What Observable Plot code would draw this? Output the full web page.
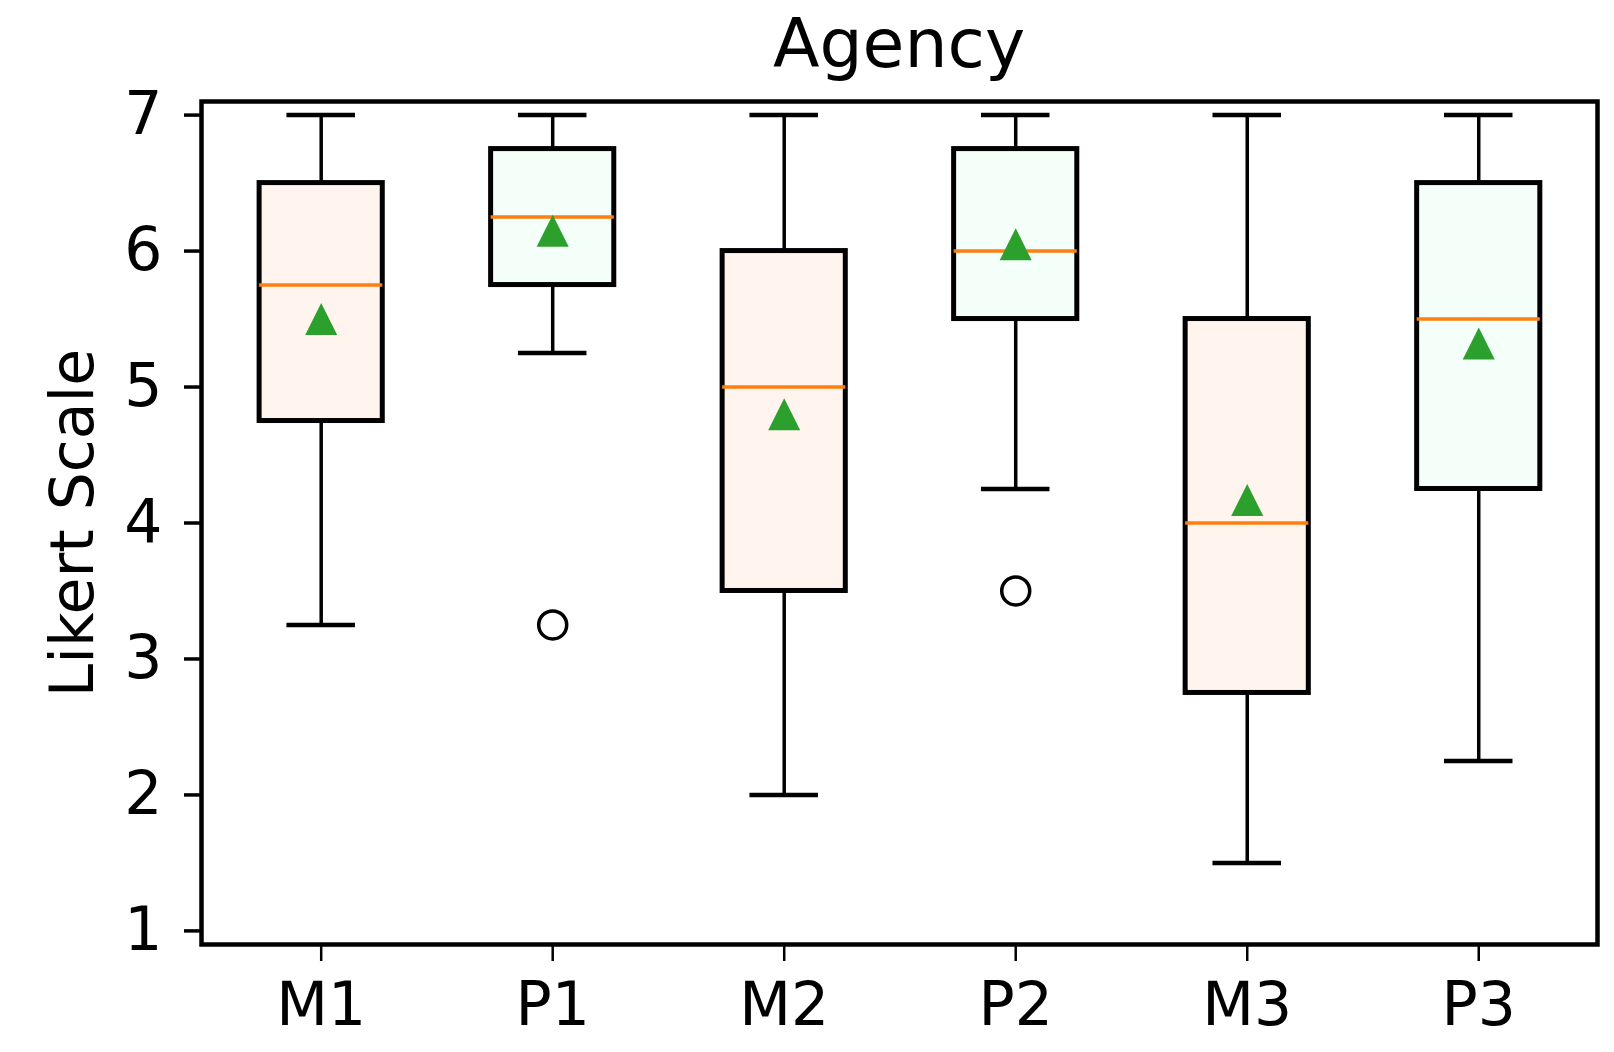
<!DOCTYPE html>
<html><head><meta charset="utf-8">
<script src="https://cdn.jsdelivr.net/npm/d3@7"></script>
<script src="https://cdn.jsdelivr.net/npm/@observablehq/plot@0.6"></script>
<style>
body{margin:0;background:#fff;font-family:"DejaVu Sans";}
#title{margin-left:201px;width:1396px;padding-top:9px;height:69px;line-height:69px;text-align:center;font-size:68px;color:#000;white-space:nowrap;}
#chart svg{display:block;}
</style></head><body>
<div id="title">Agency</div>
<div id="chart"></div>
<script>
const categories = ["M1", "P1", "M2", "P2", "M3", "P3"];
const whiskerHigh = [7, 7, 7, 7, 7, 7];
const q3 = [6.5, 6.75, 6.0, 6.75, 5.5, 6.5];
const median = [5.75, 6.25, 5.0, 6.0, 4.0, 5.5];
const q1 = [4.75, 5.75, 3.5, 5.5, 2.75, 4.25];
const whiskerLow = [3.25, 5.25, 2.0, 4.25, 1.5, 2.25];
const mean = [5.5, 6.15, 4.8, 6.05, 4.17, 5.32];
const outlierCats = ["P1", "P2"];
const outlierValues = [3.25, 3.5];
const yTicks = [1, 2, 3, 4, 5, 6, 7];

const boxes = categories.map((c, i) => ({
  cat: c, pos: i + 1, group: c[0],
  hi: whiskerHigh[i], q3: q3[i], med: median[i], q1: q1[i], lo: whiskerLow[i], mean: mean[i]
}));
const outliers = outlierCats.map((c, i) => ({pos: categories.indexOf(c) + 1, value: outlierValues[i]}));

const boxHalf = 0.266, capHalf = 0.148;
const triangle = {draw(ctx, size) {
  const h = Math.sqrt(size / Math.PI);
  ctx.moveTo(0, -h); ctx.lineTo(h, h); ctx.lineTo(-h, h); ctx.closePath();
}};

const plot = Plot.plot({
  width: 1614, height: 974,
  marginTop: 23, marginBottom: 108, marginLeft: 201, marginRight: 17,
  style: {fontFamily: "DejaVu Sans", background: "white", color: "black"},
  x: {domain: [0.483, 6.513]},
  y: {domain: [0.9, 7.1]},
  color: {domain: ["M", "P"], range: ["#fff5ee", "#f5fffa"]},
  marks: [
    Plot.ruleX(boxes, {x: "pos", y1: "q3", y2: "hi", stroke: "black", strokeWidth: 3.5}),
    Plot.ruleX(boxes, {x: "pos", y1: "lo", y2: "q1", stroke: "black", strokeWidth: 3.5}),
    Plot.ruleY(boxes, {y: "hi", x1: d => d.pos - capHalf, x2: d => d.pos + capHalf, stroke: "black", strokeWidth: 4.5}),
    Plot.ruleY(boxes, {y: "lo", x1: d => d.pos - capHalf, x2: d => d.pos + capHalf, stroke: "black", strokeWidth: 4.5}),
    Plot.rect(boxes, {x1: d => d.pos - boxHalf, x2: d => d.pos + boxHalf, y1: "q1", y2: "q3", fill: "group", stroke: "black", strokeWidth: 5}),
    Plot.ruleY(boxes, {y: "med", x1: d => d.pos - boxHalf, x2: d => d.pos + boxHalf, stroke: "#ff7f0e", strokeWidth: 3.5}),
    Plot.dot(boxes, {x: "pos", y: "mean", symbol: triangle, r: 16, fill: "#2ca02c", stroke: "none"}),
    Plot.dot(outliers, {x: "pos", y: "value", r: 14, stroke: "black", strokeWidth: 3.5, fill: "none"}),
    Plot.frame({stroke: "black", strokeWidth: 4.5}),
    Plot.axisY({ticks: yTicks, tickFormat: d => String(d), tickSize: 17, tickPadding: 22, fontSize: 60, strokeWidth: 3.5, label: null}),
    Plot.axisX({ticks: categories.map((c, i) => i + 1), tickFormat: i => categories[i - 1], tickSize: 17, tickPadding: 21, fontSize: 60, strokeWidth: 2.5, label: null}),
    Plot.text(["Likert Scale"], {text: d => d, frameAnchor: "left", rotate: -90, dx: -109, lineAnchor: "bottom", textAnchor: "middle", fontSize: 60})
  ]
});
document.getElementById("chart").appendChild(plot);
</script>
</body></html>
